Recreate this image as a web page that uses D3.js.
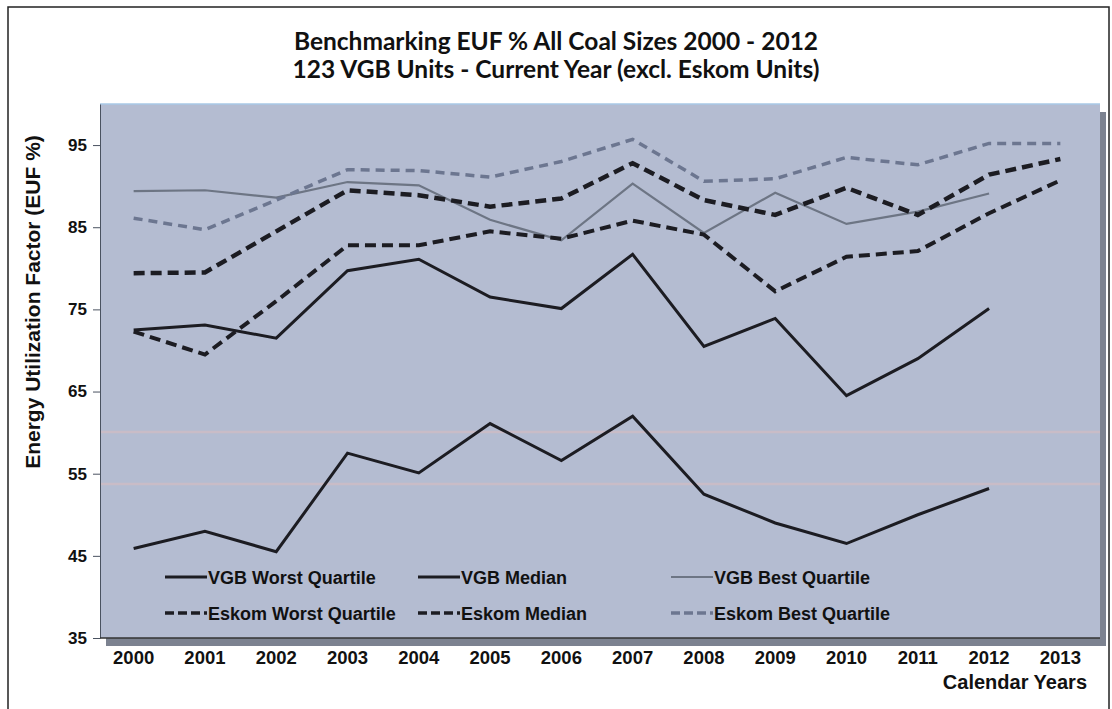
<!DOCTYPE html>
<html lang="en">
  <head>
    <title>Benchmarking EUF</title>
    <meta charset="utf-8">
    <style>
      body { margin: 0; background: white; }
      .title { font-family: Lato, "Open Sans", sans-serif; font-weight: bold; font-size: 24.5px; fill: #111; }
      .axislabel { font-family: "Liberation Sans", Arial, sans-serif; font-weight: bold; font-size: 19px; fill: #111; }
      .tick text { font-family: "Liberation Sans", Arial, sans-serif; font-weight: bold; font-size: 17px; fill: #111; }
      .xaxis .tick text { font-size: 18.5px; }
      .legend text { font-family: "Liberation Sans", Arial, sans-serif; font-weight: bold; font-size: 18px; fill: #111; }
    </style>
    <script src="https://d3js.org/d3.v7.min.js"></script>
  </head>
  <body>
    <script>

    var years = ["2000", "2001", "2002", "2003", "2004", "2005", "2006", "2007", "2008", "2009", "2010", "2011", "2012", "2013"];
    var yTicks = [35, 45, 55, 65, 75, 85, 95];

    var vgbWorst   = [45.9, 48.0, 45.5, 57.5, 55.1, 61.1, 56.6, 62.0, 52.5, 49.0, 46.5, 50.0, 53.2];
    var vgbMedian  = [72.5, 73.1, 71.5, 79.7, 81.1, 76.5, 75.1, 81.7, 70.5, 73.9, 64.5, 69.0, 75.1];
    var vgbBest    = [89.4, 89.5, 88.6, 90.5, 90.1, 85.9, 83.4, 90.3, 84.3, 89.2, 85.4, 86.9, 89.1];
    var eskomWorst  = [72.3, 69.5, 76.0, 82.8, 82.8, 84.5, 83.6, 85.8, 84.1, 77.2, 81.4, 82.1, 86.7, 90.7];
    var eskomMedian = [79.4, 79.5, 84.5, 89.5, 88.9, 87.5, 88.5, 92.8, 88.3, 86.5, 89.8, 86.5, 91.4, 93.3];
    var eskomBest   = [86.1, 84.7, 88.3, 92.0, 91.9, 91.1, 93.0, 95.7, 90.6, 90.9, 93.5, 92.6, 95.2, 95.2];

    var seriesNames = ["VGB Worst Quartile", "VGB Median", "VGB Best Quartile",
                       "Eskom Worst Quartile", "Eskom Median", "Eskom Best Quartile"];

    var W = 1112, H = 709;
    var plot = {left: 100, right: 1100, top: 104, bottom: 638};

    var svg = d3.select("body")
                .append("svg")
                .attr("width", W)
                .attr("height", H);

    // outer frame (bottom edge runs off the page)
    svg.append("rect")
       .attr("x", 8).attr("y", 7)
       .attr("width", 1101).attr("height", 720)
       .attr("fill", "white")
       .attr("stroke", "#222")
       .attr("stroke-width", 1.5);

    svg.append("text").attr("class", "title")
       .attr("x", 556).attr("y", 50)
       .attr("text-anchor", "middle")
       .text("Benchmarking EUF % All Coal Sizes 2000 - 2012");
    svg.append("text").attr("class", "title")
       .attr("x", 556).attr("y", 78)
       .attr("text-anchor", "middle")
       .text("123 VGB Units - Current Year (excl. Eskom Units)");

    // plot area with its shadow
    svg.append("rect")
       .attr("x", plot.left + 6).attr("y", plot.top + 8)
       .attr("width", plot.right - plot.left).attr("height", plot.bottom - plot.top)
       .attr("fill", "#7c8290");
    svg.append("rect")
       .attr("x", plot.left).attr("y", plot.top)
       .attr("width", plot.right - plot.left).attr("height", plot.bottom - plot.top)
       .attr("fill", "#b4bcd1");
    svg.append("line")
       .attr("x1", plot.left).attr("x2", plot.right)
       .attr("y1", plot.top).attr("y2", plot.top)
       .attr("stroke", "#a8c8e6").attr("stroke-width", 1.5);

    // faint scan streaks
    [432, 484].forEach(function(y) {
      svg.append("line")
         .attr("x1", plot.left).attr("x2", plot.right)
         .attr("y1", y).attr("y2", y)
         .attr("stroke", "#d2bcc4").attr("stroke-width", 2.5).attr("opacity", 0.7);
    });

    var xS = d3.scaleBand()
               .domain(years)
               .range([98, 1096]);

    var yS = d3.scaleLinear()
               .domain([35, 100])
               .range([plot.bottom, plot.top]);

    function xc(d) { return xS(d) + xS.bandwidth() / 2; }

    var yguide = svg.append("g")
                    .attr("class", "yaxis")
                    .attr("transform", "translate(" + plot.left + ",0)")
                    .call(d3.axisLeft(yS).tickValues(yTicks).tickSizeInner(7).tickSizeOuter(0).tickPadding(6));
    yguide.select(".domain").attr("stroke", "#4a5260").attr("stroke-width", 1);
    yguide.selectAll(".tick line").attr("stroke", "#4a5260");

    var xguide = svg.append("g")
                    .attr("class", "xaxis")
                    .attr("transform", "translate(0," + plot.bottom + ")")
                    .call(d3.axisBottom(xS).tickSize(0).tickPadding(13));
    xguide.select(".domain").remove();
    svg.append("line")
       .attr("x1", plot.left).attr("x2", plot.right)
       .attr("y1", plot.bottom).attr("y2", plot.bottom)
       .attr("stroke", "#333").attr("stroke-width", 1.5);

    svg.append("text").attr("class", "axislabel")
       .attr("transform", "translate(40,302) rotate(-90)")
       .attr("text-anchor", "middle")
       .style("font-size", "21px")
       .text("Energy Utilization Factor (EUF %)");

    svg.append("text").attr("class", "axislabel")
       .attr("x", 1087).attr("y", 689)
       .attr("text-anchor", "end")
       .style("font-size", "20px")
       .text("Calendar Years");

    var styles = [
      {color: "#1c1c22", width: 3,   dash: null},
      {color: "#1c1c22", width: 3,   dash: null},
      {color: "#6d7584", width: 2.2, dash: null},
      {color: "#1c1c22", width: 4,   dash: "11,6"},
      {color: "#1c1c22", width: 4.5, dash: "11,6"},
      {color: "#6c7690", width: 3.5, dash: "9,6"}
    ];
    var allSeries = [vgbWorst, vgbMedian, vgbBest, eskomWorst, eskomMedian, eskomBest];

    var line = d3.line()
                 .x(function(d, i) { return xc(years[i]); })
                 .y(function(d) { return yS(d); });

    // draw order: VGB best first so dashed lines sit on top
    [2, 0, 1, 5, 3, 4].forEach(function(k) {
      svg.append("path")
         .datum(allSeries[k])
         .attr("d", line)
         .attr("fill", "none")
         .attr("stroke", styles[k].color)
         .attr("stroke-width", styles[k].width)
         .attr("stroke-dasharray", styles[k].dash)
         .attr("stroke-linejoin", "miter");
    });

    // legend, two rows of three
    var legX = [165, 418, 671];
    var legY = [577, 613];
    var legend = svg.append("g").attr("class", "legend");
    seriesNames.forEach(function(name, k) {
      var lx = legX[k % 3], ly = legY[Math.floor(k / 3)];
      legend.append("line")
            .attr("x1", lx).attr("x2", lx + 42)
            .attr("y1", ly).attr("y2", ly)
            .attr("stroke", styles[k].color)
            .attr("stroke-width", Math.min(styles[k].width, 3.5))
            .attr("stroke-dasharray", styles[k].dash ? "9,4" : null);
      legend.append("text")
            .attr("x", lx + 43).attr("y", ly + 6.5)
            .text(name);
    });

    </script>
  </body>
</html>
